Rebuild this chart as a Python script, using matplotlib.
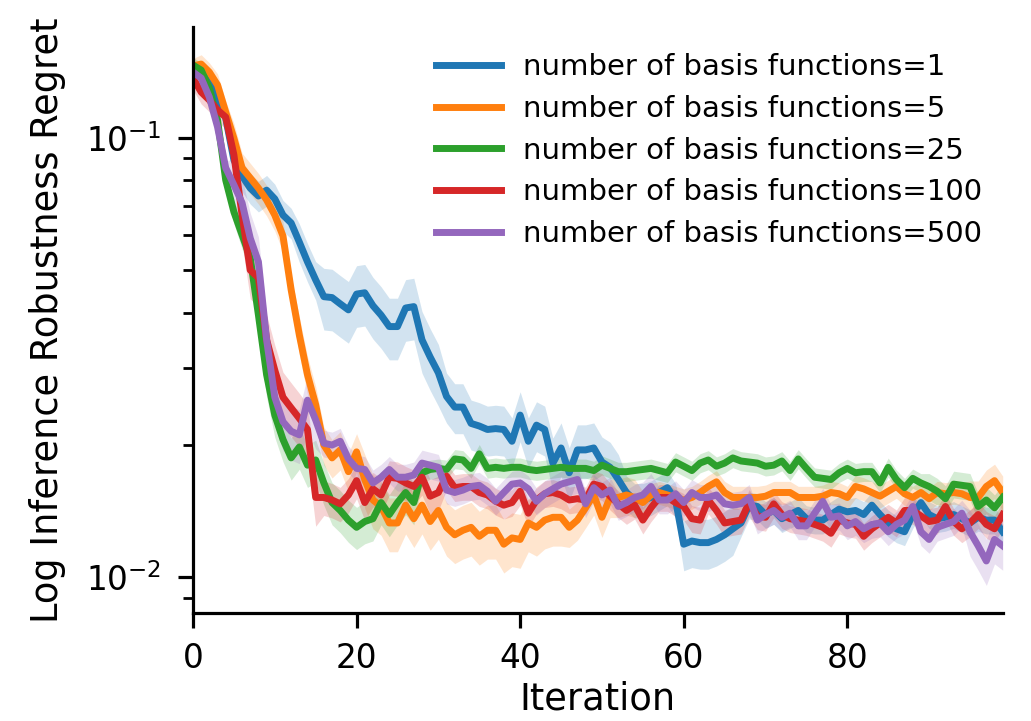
import numpy as np
import matplotlib
matplotlib.use("Agg")
import matplotlib.pyplot as plt

iterations = np.arange(100)

labels = ["number of basis functions=1", "number of basis functions=5",
          "number of basis functions=25", "number of basis functions=100",
          "number of basis functions=500"]

regret_1 = [0.1425, 0.1403, 0.1338, 0.1237, 0.1109, 0.0890, 0.0819, 0.0768, 0.0737, 0.0760,
            0.0726, 0.0667, 0.0640, 0.0579, 0.0522, 0.0475, 0.0435, 0.0433, 0.0419, 0.0406,
            0.0441, 0.0444, 0.0415, 0.0395, 0.0372, 0.0372, 0.0410, 0.0413, 0.0347, 0.0317,
            0.0292, 0.0258, 0.0244, 0.0244, 0.0224, 0.0221, 0.0217, 0.0218, 0.0217, 0.0204,
            0.0234, 0.0204, 0.0222, 0.0217, 0.0182, 0.0197, 0.0173, 0.0195, 0.0195, 0.0197,
            0.0183, 0.0178, 0.0167, 0.0156, 0.0150, 0.0150, 0.0152, 0.0156, 0.0160, 0.0150,
            0.0119, 0.0121, 0.0120, 0.0120, 0.0122, 0.0125, 0.0129, 0.0133, 0.0146, 0.0145,
            0.0139, 0.0142, 0.0136, 0.0139, 0.0142, 0.0136, 0.0135, 0.0135, 0.0139, 0.0143,
            0.0141, 0.0142, 0.0139, 0.0146, 0.0139, 0.0133, 0.0129, 0.0127, 0.0139, 0.0148,
            0.0139, 0.0136, 0.0137, 0.0139, 0.0136, 0.0133, 0.0137, 0.0135, 0.0135, 0.0127]

regret_5 = [0.1456, 0.1471, 0.1410, 0.1318, 0.1144, 0.0998, 0.0854, 0.0810, 0.0768, 0.0722,
            0.0667, 0.0598, 0.0451, 0.0356, 0.0289, 0.0247, 0.0200, 0.0187, 0.0195, 0.0174,
            0.0193, 0.0167, 0.0150, 0.0145, 0.0133, 0.0133, 0.0146, 0.0136, 0.0146, 0.0134,
            0.0142, 0.0130, 0.0125, 0.0128, 0.0130, 0.0124, 0.0128, 0.0128, 0.0119, 0.0123,
            0.0122, 0.0133, 0.0130, 0.0135, 0.0137, 0.0137, 0.0130, 0.0135, 0.0144, 0.0154,
            0.0137, 0.0152, 0.0152, 0.0154, 0.0152, 0.0148, 0.0154, 0.0156, 0.0154, 0.0152,
            0.0150, 0.0152, 0.0156, 0.0161, 0.0165, 0.0156, 0.0152, 0.0152, 0.0152, 0.0152,
            0.0153, 0.0156, 0.0156, 0.0156, 0.0152, 0.0152, 0.0152, 0.0153, 0.0156, 0.0155,
            0.0152, 0.0161, 0.0159, 0.0156, 0.0153, 0.0157, 0.0161, 0.0155, 0.0152, 0.0156,
            0.0151, 0.0156, 0.0155, 0.0156, 0.0155, 0.0152, 0.0152, 0.0161, 0.0166, 0.0156]

regret_25 = [0.1463, 0.1425, 0.1297, 0.1097, 0.0801, 0.0678, 0.0601, 0.0533, 0.0395, 0.0289,
             0.0234, 0.0206, 0.0187, 0.0198, 0.0180, 0.0185, 0.0164, 0.0148, 0.0142, 0.0135,
             0.0130, 0.0134, 0.0136, 0.0148, 0.0139, 0.0148, 0.0156, 0.0148, 0.0173, 0.0176,
             0.0177, 0.0176, 0.0186, 0.0185, 0.0177, 0.0191, 0.0177, 0.0178, 0.0177, 0.0178,
             0.0178, 0.0176, 0.0175, 0.0176, 0.0177, 0.0178, 0.0177, 0.0177, 0.0177, 0.0175,
             0.0180, 0.0177, 0.0174, 0.0174, 0.0175, 0.0176, 0.0177, 0.0175, 0.0173, 0.0183,
             0.0179, 0.0175, 0.0182, 0.0185, 0.0179, 0.0182, 0.0187, 0.0184, 0.0183, 0.0182,
             0.0179, 0.0180, 0.0184, 0.0175, 0.0186, 0.0177, 0.0169, 0.0168, 0.0167, 0.0173,
             0.0177, 0.0173, 0.0174, 0.0174, 0.0164, 0.0178, 0.0167, 0.0160, 0.0168, 0.0164,
             0.0161, 0.0157, 0.0151, 0.0163, 0.0162, 0.0161, 0.0145, 0.0150, 0.0144, 0.0152]

regret_100 = [0.1367, 0.1270, 0.1218, 0.1156, 0.1114, 0.0914, 0.0667, 0.0500, 0.0480, 0.0347,
              0.0296, 0.0257, 0.0243, 0.0230, 0.0217, 0.0152, 0.0152, 0.0150, 0.0147, 0.0154,
              0.0166, 0.0148, 0.0159, 0.0154, 0.0169, 0.0168, 0.0164, 0.0161, 0.0169, 0.0153,
              0.0156, 0.0170, 0.0160, 0.0161, 0.0161, 0.0156, 0.0154, 0.0149, 0.0146, 0.0148,
              0.0157, 0.0140, 0.0150, 0.0155, 0.0156, 0.0154, 0.0150, 0.0151, 0.0150, 0.0163,
              0.0161, 0.0153, 0.0147, 0.0142, 0.0146, 0.0135, 0.0144, 0.0152, 0.0152, 0.0148,
              0.0145, 0.0136, 0.0135, 0.0150, 0.0142, 0.0133, 0.0134, 0.0135, 0.0148, 0.0138,
              0.0137, 0.0147, 0.0139, 0.0136, 0.0135, 0.0134, 0.0132, 0.0130, 0.0126, 0.0135,
              0.0133, 0.0132, 0.0124, 0.0129, 0.0133, 0.0137, 0.0133, 0.0142, 0.0142, 0.0138,
              0.0134, 0.0135, 0.0145, 0.0134, 0.0129, 0.0133, 0.0139, 0.0132, 0.0129, 0.0139]

regret_500 = [0.1410, 0.1367, 0.1237, 0.1058, 0.0854, 0.0781, 0.0711, 0.0591, 0.0522, 0.0347,
              0.0257, 0.0226, 0.0215, 0.0211, 0.0253, 0.0228, 0.0202, 0.0200, 0.0204, 0.0186,
              0.0177, 0.0176, 0.0164, 0.0169, 0.0176, 0.0169, 0.0169, 0.0171, 0.0182, 0.0180,
              0.0178, 0.0158, 0.0156, 0.0158, 0.0161, 0.0162, 0.0157, 0.0149, 0.0156, 0.0163,
              0.0164, 0.0159, 0.0149, 0.0155, 0.0159, 0.0163, 0.0165, 0.0167, 0.0147, 0.0160,
              0.0154, 0.0158, 0.0145, 0.0148, 0.0152, 0.0154, 0.0161, 0.0150, 0.0150, 0.0155,
              0.0148, 0.0156, 0.0152, 0.0152, 0.0154, 0.0147, 0.0146, 0.0147, 0.0152, 0.0135,
              0.0139, 0.0142, 0.0137, 0.0140, 0.0131, 0.0131, 0.0140, 0.0149, 0.0137, 0.0138,
              0.0131, 0.0134, 0.0129, 0.0132, 0.0133, 0.0127, 0.0132, 0.0135, 0.0145, 0.0127,
              0.0122, 0.0130, 0.0132, 0.0134, 0.0140, 0.0127, 0.0118, 0.0109, 0.0122, 0.0118]

# relative spread (half-width of the shaded band, fraction of the mean)
spread_1 = [0.03, 0.03, 0.04, 0.05, 0.06, 0.08, 0.08, 0.08, 0.08, 0.08,
            0.08, 0.08, 0.08, 0.10, 0.10, 0.10, 0.16, 0.16, 0.16, 0.16,
            0.16, 0.16, 0.16, 0.16, 0.16, 0.16, 0.16, 0.16, 0.16, 0.16,
            0.16, 0.13, 0.13, 0.13, 0.13, 0.13, 0.13, 0.13, 0.13, 0.13,
            0.13, 0.13, 0.13, 0.13, 0.14, 0.14, 0.14, 0.14, 0.14, 0.14,
            0.14, 0.14, 0.14, 0.09, 0.09, 0.09, 0.09, 0.09, 0.09, 0.09,
            0.13, 0.13, 0.13, 0.13, 0.13, 0.13, 0.13, 0.07, 0.07, 0.07,
            0.07, 0.07, 0.07, 0.07, 0.07, 0.07, 0.07, 0.07, 0.07, 0.07,
            0.07, 0.07, 0.07, 0.07, 0.07, 0.07, 0.07, 0.07, 0.07, 0.07,
            0.07, 0.07, 0.07, 0.07, 0.07, 0.07, 0.07, 0.07, 0.07, 0.07]

spread_5 = [0.04, 0.05, 0.05, 0.06, 0.06, 0.08, 0.08, 0.08, 0.08, 0.08,
            0.08, 0.08, 0.08, 0.10, 0.10, 0.10, 0.10, 0.10, 0.10, 0.10,
            0.10, 0.14, 0.14, 0.14, 0.14, 0.14, 0.14, 0.14, 0.14, 0.14,
            0.14, 0.14, 0.14, 0.14, 0.14, 0.14, 0.14, 0.14, 0.14, 0.14,
            0.14, 0.14, 0.14, 0.14, 0.14, 0.14, 0.10, 0.10, 0.10, 0.10,
            0.10, 0.10, 0.10, 0.10, 0.10, 0.06, 0.06, 0.06, 0.06, 0.06,
            0.06, 0.06, 0.06, 0.06, 0.06, 0.06, 0.06, 0.06, 0.06, 0.06,
            0.06, 0.06, 0.06, 0.06, 0.06, 0.06, 0.06, 0.06, 0.06, 0.06,
            0.06, 0.06, 0.06, 0.06, 0.06, 0.06, 0.06, 0.06, 0.06, 0.06,
            0.06, 0.06, 0.06, 0.06, 0.06, 0.09, 0.09, 0.09, 0.09, 0.09]

spread_25 = [0.04, 0.04, 0.05, 0.05, 0.06, 0.06, 0.07, 0.07, 0.11, 0.11,
             0.11, 0.11, 0.11, 0.11, 0.11, 0.11, 0.11, 0.11, 0.11, 0.11,
             0.11, 0.11, 0.11, 0.11, 0.11, 0.11, 0.11, 0.11, 0.05, 0.05,
             0.05, 0.05, 0.05, 0.05, 0.05, 0.05, 0.05, 0.05, 0.05, 0.05,
             0.05, 0.05, 0.05, 0.05, 0.05, 0.05, 0.05, 0.05, 0.05, 0.05,
             0.05, 0.05, 0.05, 0.05, 0.05, 0.05, 0.05, 0.05, 0.05, 0.05,
             0.05, 0.05, 0.05, 0.05, 0.05, 0.05, 0.05, 0.05, 0.05, 0.05,
             0.05, 0.05, 0.05, 0.05, 0.05, 0.05, 0.05, 0.05, 0.05, 0.05,
             0.05, 0.05, 0.05, 0.05, 0.05, 0.05, 0.05, 0.05, 0.05, 0.05,
             0.07, 0.07, 0.07, 0.07, 0.07, 0.07, 0.07, 0.07, 0.07, 0.07]

spread_100 = [0.06, 0.06, 0.06, 0.06, 0.06, 0.06, 0.14, 0.14, 0.14, 0.14,
              0.14, 0.14, 0.14, 0.14, 0.14, 0.14, 0.09, 0.09, 0.09, 0.09,
              0.09, 0.09, 0.09, 0.09, 0.09, 0.09, 0.09, 0.09, 0.09, 0.09,
              0.09, 0.07, 0.07, 0.07, 0.07, 0.07, 0.07, 0.07, 0.07, 0.07,
              0.07, 0.07, 0.07, 0.07, 0.07, 0.07, 0.07, 0.07, 0.07, 0.07,
              0.07, 0.07, 0.07, 0.07, 0.07, 0.07, 0.07, 0.07, 0.07, 0.07,
              0.07, 0.07, 0.07, 0.07, 0.07, 0.07, 0.07, 0.07, 0.07, 0.07,
              0.07, 0.07, 0.07, 0.07, 0.07, 0.07, 0.07, 0.07, 0.07, 0.07,
              0.07, 0.07, 0.07, 0.07, 0.07, 0.07, 0.07, 0.07, 0.07, 0.07,
              0.07, 0.07, 0.07, 0.07, 0.07, 0.07, 0.07, 0.07, 0.07, 0.07]

spread_500 = [0.04, 0.04, 0.04, 0.04, 0.04, 0.14, 0.14, 0.14, 0.14, 0.14,
              0.14, 0.14, 0.14, 0.14, 0.14, 0.14, 0.07, 0.07, 0.07, 0.07,
              0.07, 0.07, 0.07, 0.07, 0.07, 0.07, 0.07, 0.07, 0.07, 0.07,
              0.07, 0.07, 0.07, 0.07, 0.07, 0.07, 0.07, 0.07, 0.07, 0.07,
              0.07, 0.07, 0.07, 0.07, 0.07, 0.07, 0.07, 0.07, 0.07, 0.07,
              0.07, 0.07, 0.07, 0.07, 0.07, 0.07, 0.07, 0.07, 0.07, 0.07,
              0.07, 0.07, 0.07, 0.07, 0.07, 0.07, 0.07, 0.07, 0.07, 0.07,
              0.07, 0.07, 0.07, 0.07, 0.07, 0.07, 0.07, 0.07, 0.07, 0.07,
              0.07, 0.07, 0.07, 0.07, 0.07, 0.07, 0.07, 0.07, 0.07, 0.07,
              0.07, 0.07, 0.07, 0.07, 0.07, 0.12, 0.12, 0.12, 0.12, 0.12]

series = [regret_1, regret_5, regret_25, regret_100, regret_500]
spreads = [spread_1, spread_5, spread_25, spread_100, spread_500]
colors = ["#1f77b4", "#ff7f0e", "#2ca02c", "#d62728", "#9467bd"]

plt.rcParams.update({
    "font.family": "DejaVu Sans",
    "axes.linewidth": 2.3,
    "xtick.major.width": 2.3,
    "ytick.major.width": 2.3,
    "ytick.minor.width": 2.0,
    "xtick.major.size": 11,
    "ytick.major.size": 11,
    "ytick.minor.size": 7,
    "xtick.major.pad": 10,
    "ytick.major.pad": 12,
})

fig = plt.figure(figsize=(10.31, 7.21), dpi=100)
ax = fig.add_axes([193 / 1031, 1 - 613 / 721, (1002.7 - 193) / 1031, (613 - 27) / 721])

for y, s, c, lab in zip(series, spreads, colors, labels):
    y = np.asarray(y)
    s = np.asarray(s)
    ax.fill_between(iterations, y * (1 - s), y * (1 + s), color=c, alpha=0.2, linewidth=0)
    ax.plot(iterations, y, color=c, lw=5.0, label=lab)

ax.set_yscale("log")
ax.set_xlim(0, 99)
ax.set_ylim(0.0083, 0.1786)
ax.set_xticks([0, 20, 40, 60, 80])
ax.tick_params(axis="both", labelsize=23.5)
ax.set_xlabel("Iteration", fontsize=26.5, labelpad=4)
ax.set_ylabel("Log Inference Robustness Regret", fontsize=26.5, labelpad=14)
ax.spines["top"].set_visible(False)
ax.spines["right"].set_visible(False)

ax.legend(loc="upper right", fontsize=21, frameon=False, handlelength=2.23,
          handletextpad=0.75, labelspacing=0.47, bbox_to_anchor=(1.0065, 1.0))

fig.savefig("out.png", dpi=100)
